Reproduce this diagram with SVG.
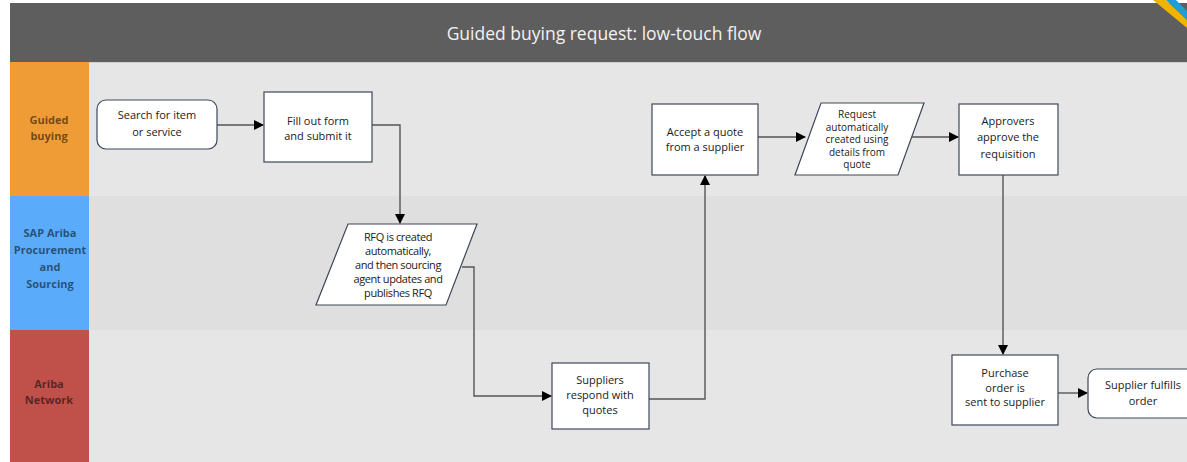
<svg xmlns="http://www.w3.org/2000/svg" width="1187" height="462" viewBox="0 0 1187 462">
<style>
.node{fill:#ffffff;stroke:#3f4658;stroke-width:1.2}
.t{font-family:"Open Sans","Liberation Sans",sans-serif;font-size:11px;fill:#1a1a1a;text-anchor:middle}
.ts{font-family:"Open Sans","Liberation Sans",sans-serif;font-size:10px;fill:#1a1a1a;text-anchor:middle}
.tc{font-family:"Open Sans","Liberation Sans",sans-serif;font-size:11px;fill:#1a1a1a;text-anchor:middle;letter-spacing:-0.4px}
.lane{font-family:"Open Sans","Liberation Sans",sans-serif;font-size:11px;font-weight:bold;fill:#000;fill-opacity:0.55;text-anchor:middle}
.c{fill:none;stroke:#555555;stroke-width:1.4}
</style>
<defs>
<marker id="ah" markerWidth="10" markerHeight="10" refX="9" refY="5" orient="auto" markerUnits="userSpaceOnUse">
<path d="M0,0 L10,5 L0,10 Z" fill="#000"/>
</marker>
</defs>
<rect x="0" y="0" width="1187" height="462" fill="#ffffff"/>
<g id="title">
<rect x="10" y="3" width="1177" height="59" fill="#5e5e5e"/>
<text x="604" y="40" font-family="Open Sans,Liberation Sans,sans-serif" font-size="17.5" fill="#f2f2f2" text-anchor="middle">Guided buying request: low-touch flow</text>
<polygon points="1153,0 1166,0 1187,20 1187,28" fill="#f0b400"/>
<polygon points="1166,0 1176,0 1187,11 1187,20" fill="#1e9ed8"/>
</g>
<g id="lanes">
<rect x="89" y="62" width="1098" height="134" fill="#e6e6e6"/>
<rect x="89" y="196" width="1098" height="134" fill="#dfdfdf"/>
<rect x="89" y="330" width="1098" height="132" fill="#e6e6e6"/>
<line x1="89" y1="62.5" x2="1187" y2="62.5" stroke="#cfcfcf" stroke-width="1"/>
<rect x="10" y="62" width="79" height="134" fill="#ef9c36"/>
<rect x="10" y="196" width="79" height="134" fill="#5aabfa"/>
<rect x="10" y="330" width="79" height="132" fill="#c0504a"/>
<text class="lane" x="49" y="124">Guided</text>
<text class="lane" x="49" y="140">buying</text>
<text class="lane" x="50" y="237">SAP Ariba</text>
<text class="lane" x="50" y="254">Procurement</text>
<text class="lane" x="50" y="271">and</text>
<text class="lane" x="50" y="288">Sourcing</text>
<text class="lane" x="49" y="388">Ariba</text>
<text class="lane" x="49" y="404">Network</text>
</g>
<g id="connectors">
<path class="c" d="M217,125 H263" marker-end="url(#ah)"/>
<path class="c" d="M372,125 H400 V223" marker-end="url(#ah)"/>
<path class="c" d="M462,267 H474 V396 H551" marker-end="url(#ah)"/>
<path class="c" d="M649,399 H705 V176" marker-end="url(#ah)"/>
<path class="c" d="M758,137 H805" marker-end="url(#ah)"/>
<path class="c" d="M912,137 H958" marker-end="url(#ah)"/>
<path class="c" d="M1003,175 V354" marker-end="url(#ah)"/>
<path class="c" d="M1058,393 H1087" marker-end="url(#ah)"/>
</g>
<g id="n1">
<rect class="node" x="97" y="100" width="120" height="49" rx="9"/>
<text class="t" x="157" y="119">Search for item</text>
<text class="t" x="157" y="136">or service</text>
</g>
<g id="n2">
<rect class="node" x="264" y="92" width="108" height="70"/>
<text class="t" x="318" y="125">Fill out form</text>
<text class="t" x="318" y="140">and submit it</text>
</g>
<g id="n3">
<polygon class="node" points="348,224 477,224 446,305 316,305"/>
<text class="tc" x="398" y="241">RFQ is created</text>
<text class="tc" x="398" y="255">automatically,</text>
<text class="tc" x="398" y="269">and then sourcing</text>
<text class="tc" x="398" y="283">agent updates and</text>
<text class="tc" x="398" y="297">publishes RFQ</text>
</g>
<g id="n4">
<rect class="node" x="552" y="363" width="97" height="66"/>
<text class="t" x="600" y="384">Suppliers</text>
<text class="t" x="600" y="399">respond with</text>
<text class="t" x="600" y="414">quotes</text>
</g>
<g id="n5">
<rect class="node" x="652" y="104" width="106" height="71"/>
<text class="t" x="705" y="136">Accept a quote</text>
<text class="t" x="705" y="151">from a supplier</text>
</g>
<g id="n6">
<polygon class="node" points="821,103 924,103 898,175 795,175"/>
<text class="ts" x="857" y="118">Request</text>
<text class="ts" x="857" y="131">automatically</text>
<text class="ts" x="857" y="143">created using</text>
<text class="ts" x="857" y="156">details from</text>
<text class="ts" x="857" y="168">quote</text>
</g>
<g id="n7">
<rect class="node" x="959" y="104" width="99" height="71"/>
<text class="t" x="1008" y="125">Approvers</text>
<text class="t" x="1008" y="141">approve the</text>
<text class="t" x="1008" y="158">requisition</text>
</g>
<g id="n8">
<rect class="node" x="952" y="355" width="106" height="70"/>
<text class="t" x="1005" y="377">Purchase</text>
<text class="t" x="1005" y="392">order is</text>
<text class="t" x="1005" y="406">sent to supplier</text>
</g>
<g id="n9">
<rect class="node" x="1088" y="369" width="112" height="49" rx="9"/>
<text class="t" x="1143" y="389">Supplier fulfills</text>
<text class="t" x="1143" y="405">order</text>
</g>
</svg>
